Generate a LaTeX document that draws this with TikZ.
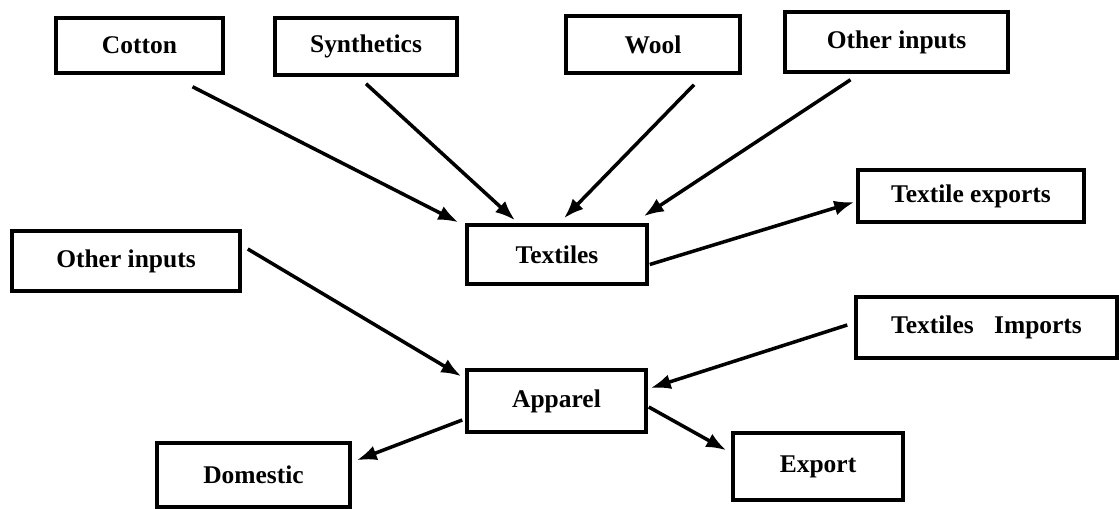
\documentclass[tikz,border=0pt]{standalone}
\usepackage{fontspec}
\setmainfont{Liberation Serif}
\usepackage{tikz}
\usetikzlibrary{calc,arrows.meta}
\tikzstyle{bloc} = [rectangle, draw=black, line width=2pt, inner sep=0pt, font=\fontsize{14.5}{17}\selectfont\bfseries]
\tikzstyle{fleche} = [line width=2pt, -{Latex[length=0.4cm, width=0.3cm]}]

\begin{document}
\begin{tikzpicture}

        \useasboundingbox (0,0) rectangle (22.38,10.16);

        \node (cotton) [bloc, minimum width=3.34cm, minimum height=1.10cm] at (2.79,9.25) {Cotton};
        \node (synth) [bloc, minimum width=3.64cm, minimum height=1.14cm] at (7.32,9.23) {Synthetics};
        \node (wool) [bloc, minimum width=3.48cm, minimum height=1.14cm] at (13.06,9.27) {Wool};
        \node (otherT) [bloc, minimum width=4.46cm, minimum height=1.20cm] at (17.93,9.32) {Other inputs};

        \node (textiles) [bloc, minimum width=3.60cm, minimum height=1.18cm] at (11.14,5.07) {Textiles};
        \node (texExp) [bloc, minimum width=4.52cm, minimum height=1.04cm] at (19.42,6.24) {Textile exports};

        \node (otherA) [bloc, minimum width=4.56cm, minimum height=1.20cm] at (2.52,4.94) {Other inputs};
        \node (texImp) [bloc, minimum width=5.22cm, minimum height=1.22cm] at (19.73,3.61) {Textiles\hspace{0.8em}Imports};
        \node (apparel) [bloc, minimum width=3.58cm, minimum height=1.24cm] at (11.13,2.14) {Apparel};

        \node (domestic) [bloc, minimum width=3.86cm, minimum height=1.28cm] at (5.07,0.66) {\raisebox{-0.12cm}{Domestic}};
        \node (export) [bloc, minimum width=3.40cm, minimum height=1.34cm] at (16.36,0.83) {\raisebox{-0.12cm}{Export}};

        % vers textiles
        \draw [fleche] ($(cotton.south) + (1.06,-0.24)$) -- ($(textiles.north west) + (-0.14,0.02)$);
        \draw [fleche] ($(synth.south) + (0,-0.14)$) -- ($(textiles.north) + (-0.84,0.06)$);
        \draw [fleche] ($(wool.south) + (0.82,-0.2)$) -- ($(textiles.north) + (0.14,0.1)$);
        \draw [fleche] ($(otherT.south) + (-0.92,-0.12)$) -- ($(textiles.north east) + (-0.1,0.14)$);
        \draw [fleche] ($(textiles.east) + (0.02,-0.2)$) -- ($(texExp.west) + (-0.04,-0.12)$);

        % vers apparel
        \draw [fleche] ($(otherA.east) + (0.12,0.24)$) -- ($(apparel.north west) + (-0.08,-0.16)$);
        \draw [fleche] ($(texImp.west) + (-0.14,0.05)$) -- ($(apparel.east) + (0.06,0.26)$);
        \draw [fleche] ($(apparel.east) + (0.02,-0.12)$) -- ($(export.north west) + (-0.1,-0.38)$);
        \draw [fleche] ($(apparel.west) + (-0.06,-0.38)$) -- ($(domestic.north east) + (0.1,-0.38)$);

    \end{tikzpicture}
\end{document}
